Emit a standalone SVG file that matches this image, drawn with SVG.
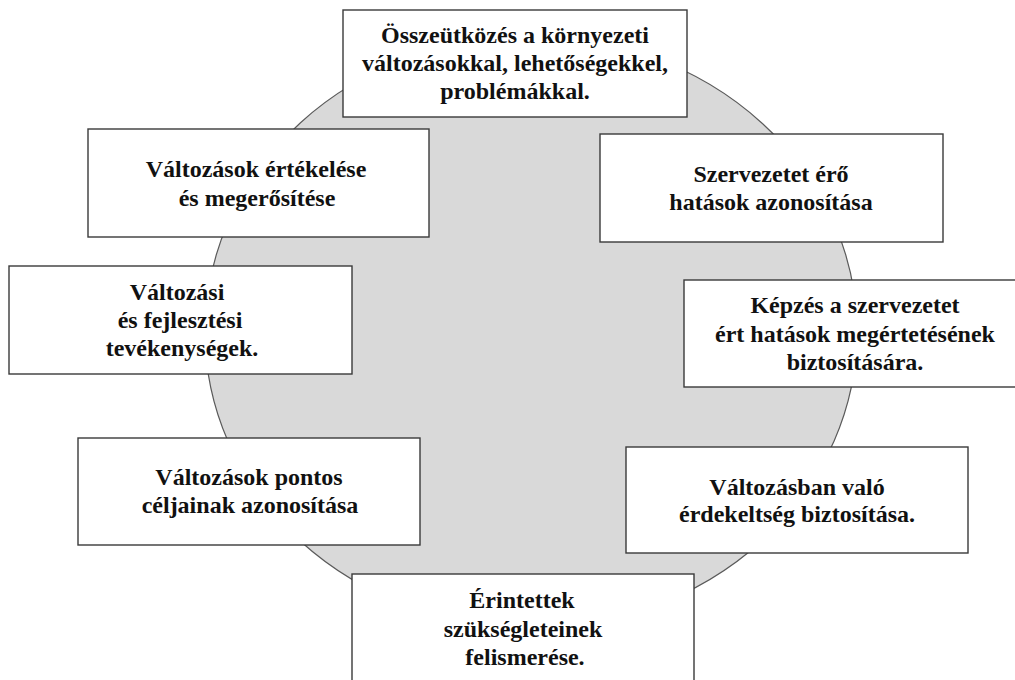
<svg xmlns="http://www.w3.org/2000/svg" width="1015" height="680" viewBox="0 0 1015 680">
  <style>
    .box { fill: #ffffff; stroke: #3a3a3a; stroke-width: 1.4; }
    .lbl { font-family: "Liberation Serif", "Times New Roman", serif; font-weight: bold; font-size: 24px; fill: #111111; text-anchor: middle; }
  </style>
  <rect width="1015" height="680" fill="#ffffff"/>

  <!-- background cycle disc -->
  <g id="cycle">
    <ellipse cx="531" cy="332" rx="326" ry="296" fill="#d9d9d9" stroke="#5a5a5a" stroke-width="1.2"/>
  </g>

  <!-- no connectors: the steps sit around the disc -->
  <g id="connectors"></g>

  <g id="step-collision">
    <rect class="box" x="343" y="10" width="344" height="107"/>
    <text class="lbl" x="515" y="43">Összeütközés a környezeti</text>
    <text class="lbl" x="515" y="71">változásokkal, lehetőségekkel,</text>
    <text class="lbl" x="515" y="99">problémákkal.</text>
  </g>

  <g id="step-forces">
    <rect class="box" x="600" y="134" width="343" height="108"/>
    <text class="lbl" x="771" y="182">Szervezetet érő</text>
    <text class="lbl" x="771" y="210">hatások azonosítása</text>
  </g>

  <g id="step-training">
    <rect class="box" x="684" y="280" width="343" height="107"/>
    <text class="lbl" x="855" y="313">Képzés a szervezetet</text>
    <text class="lbl" x="855" y="342">ért hatások megértetésének</text>
    <text class="lbl" x="855" y="370">biztosítására.</text>
  </g>

  <g id="step-interest">
    <rect class="box" x="626" y="447" width="342" height="106"/>
    <text class="lbl" x="797" y="495">Változásban való</text>
    <text class="lbl" x="797" y="522">érdekeltség biztosítása.</text>
  </g>

  <g id="step-needs">
    <rect class="box" x="352" y="574" width="342" height="120"/>
    <text class="lbl" x="522" y="608">Érintettek</text>
    <text class="lbl" x="523" y="637">szükségleteinek</text>
    <text class="lbl" x="525" y="665">felismerése.</text>
  </g>

  <g id="step-goals">
    <rect class="box" x="78" y="438" width="342" height="107"/>
    <text class="lbl" x="249" y="485">Változások pontos</text>
    <text class="lbl" x="250" y="513">céljainak azonosítása</text>
  </g>

  <g id="step-activities">
    <rect class="box" x="9" y="266" width="343" height="108"/>
    <text class="lbl" x="177" y="300">Változási</text>
    <text class="lbl" x="180" y="328">és fejlesztési</text>
    <text class="lbl" x="182" y="356">tevékenységek.</text>
  </g>

  <g id="step-evaluation">
    <rect class="box" x="88" y="129" width="341" height="108"/>
    <text class="lbl" x="256" y="177">Változások értékelése</text>
    <text class="lbl" x="257" y="206">és megerősítése</text>
  </g>
</svg>
